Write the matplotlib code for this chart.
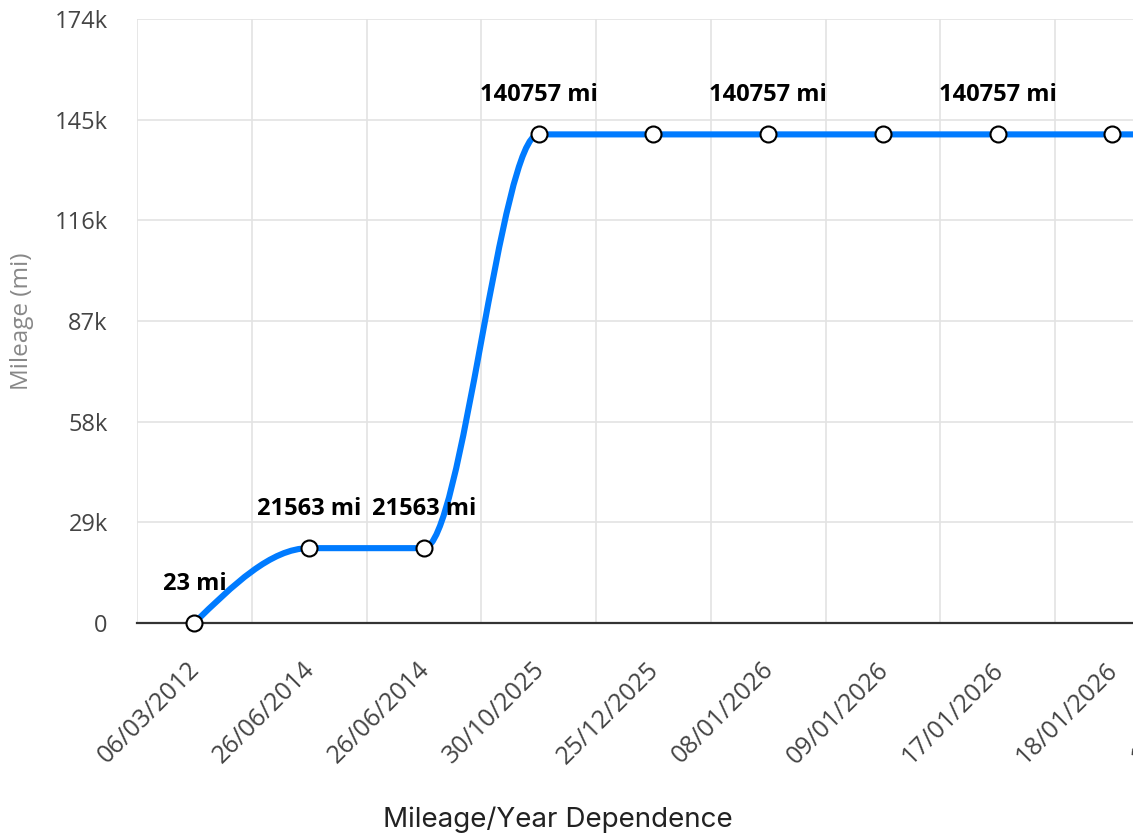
import matplotlib
matplotlib.use("Agg")
import matplotlib.pyplot as plt
from matplotlib.path import Path
from matplotlib.patches import PathPatch
from matplotlib.transforms import ScaledTranslation
import numpy as np

# ---- data ----
dates = ["06/03/2012", "26/06/2014", "26/06/2014", "30/10/2025", "25/12/2025",
         "08/01/2026", "09/01/2026", "17/01/2026", "18/01/2026", "19/01/2026"]
mileage = [23, 21563, 21563, 140757, 140757, 140757, 140757, 140757, 140757, 140757]
show_label = [True, True, True, True, False, True, False, True, False, False]
y_ticks = [0, 29000, 58000, 87000, 116000, 145000, 174000]
y_tick_labels = ["0", "29k", "58k", "87k", "116k", "145k", "174k"]

LINE = "#007bff"
W, H = 1133, 840


def monotone_path(xs, ys):
    xs = np.asarray(xs, float)
    ys = np.asarray(ys, float)
    n = len(xs)
    t = np.zeros(n)
    for i in range(1, n - 1):
        h0 = xs[i] - xs[i - 1]
        h1 = xs[i + 1] - xs[i]
        s0 = (ys[i] - ys[i - 1]) / h0
        s1 = (ys[i + 1] - ys[i]) / h1
        p = (s0 * h1 + s1 * h0) / (h0 + h1)
        t[i] = (np.sign(s0) + np.sign(s1)) * min(abs(s0), abs(s1), 0.5 * abs(p))
    h = xs[1] - xs[0]
    t[0] = (3 * (ys[1] - ys[0]) / h - t[1]) / 2
    h = xs[-1] - xs[-2]
    t[-1] = (3 * (ys[-1] - ys[-2]) / h - t[-2]) / 2
    verts = [(xs[0], ys[0])]
    codes = [Path.MOVETO]
    for i in range(n - 1):
        dx = (xs[i + 1] - xs[i]) / 3
        verts += [(xs[i] + dx, ys[i] + dx * t[i]),
                  (xs[i + 1] - dx, ys[i + 1] - dx * t[i + 1]),
                  (xs[i + 1], ys[i + 1])]
        codes += [Path.CURVE4] * 3
    return Path(verts, codes)


plt.rcParams["font.family"] = ["Open Sans", "DejaVu Sans"]

fig = plt.figure(figsize=(W / 100, H / 100), dpi=100)
ax = fig.add_axes([137 / W, 217 / H, 1147.5 / W, 604 / H])

x = np.arange(len(dates))
ax.set_xlim(-0.5, len(dates) - 0.5)
ax.set_ylim(0, 174000)

# grid
ax.set_yticks(y_ticks)
ax.set_yticklabels(y_tick_labels, fontsize=17, color="#444444")
ax.set_xticks(x)
ax.set_xticks(np.arange(len(dates) + 1) - 0.5, minor=True)
ax.grid(True, axis="y", which="major", color="#e3e3e3", lw=1.2, zorder=0)
ax.grid(True, axis="x", which="minor", color="#e3e3e3", lw=1.2, zorder=0)
ax.tick_params(axis="both", which="both", length=0)
ax.tick_params(axis="y", pad=21)
for s in ["top", "right", "left"]:
    ax.spines[s].set_visible(False)
ax.spines["bottom"].set_color("#333333")
ax.spines["bottom"].set_linewidth(1.6)
ax.spines["bottom"].set_zorder(3)

ax.set_xticklabels(dates, rotation=45, ha="right", va="center",
                   rotation_mode="anchor", fontsize=18, color="#444444")
ax.tick_params(axis="x", pad=31)
offset = ScaledTranslation(2 / 100, 0, fig.dpi_scale_trans)
for lab in ax.get_xticklabels():
    lab.set_transform(lab.get_transform() + offset)

# line
patch = PathPatch(monotone_path(x, mileage), facecolor="none", edgecolor=LINE,
                  lw=4.4, capstyle="round", joinstyle="round", zorder=4)
ax.add_patch(patch)
ax.plot(x, mileage, linestyle="none", marker="o", ms=11.5, mfc="white",
        mec="black", mew=1.5, zorder=5, clip_on=False)

for xi, yi, show in zip(x, mileage, show_label):
    if show:
        ax.annotate(f"{yi} mi", (xi, yi), xytext=(0, 24), textcoords="offset points",
                    ha="center", va="baseline", fontsize=17, fontweight="bold",
                    color="black", zorder=6, annotation_clip=False)

fig.text(22 / W, 1 - 321 / H, "Mileage (mi)", rotation=90, ha="center", va="center",
         fontsize=17.5, color="#888888")
fig.text(558 / W, 1 - 820 / H, "Mileage/Year Dependence", ha="center", va="center",
         fontsize=20, color="#222222", family=["Inter", "DejaVu Sans"])

fig.savefig("out.png", dpi=100)
